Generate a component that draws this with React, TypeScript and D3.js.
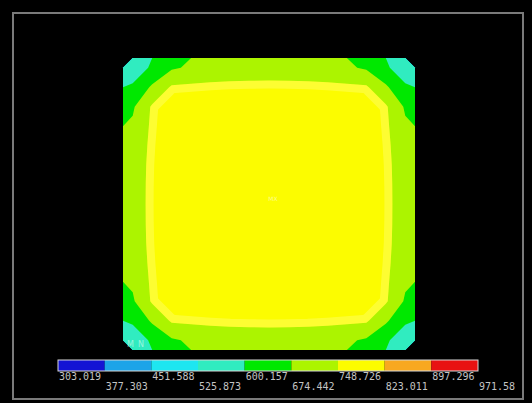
import React from 'react';
import * as d3 from 'd3';

// contour levels
const levels = [303.019, 377.303, 451.588, 525.873, 600.157, 674.442, 748.726, 823.011, 897.296, 971.58];
const levelLabels = ['303.019', '377.303', '451.588', '525.873', '600.157', '674.442', '748.726', '823.011', '897.296', '971.58'];
const bandColors = ['#1414d4', '#1ca4e8', '#1ee6f0', '#30ecc0', '#00e800', '#acf400', '#fcfc00', '#f8a820', '#e81212'];

// nodal values on a 15 x 15 grid (rows top to bottom)
const row0 = [540, 616, 665, 685, 700, 710, 714, 715, 714, 710, 700, 685, 665, 616, 540];
const row1 = [616, 685, 758, 762, 765, 766, 766, 766, 766, 766, 765, 762, 758, 685, 616];
const row2 = [665, 758, 775, 780, 784, 785, 786, 786, 786, 785, 784, 780, 775, 758, 665];
const row3 = [685, 762, 780, 788, 792, 794, 795, 795, 795, 794, 792, 788, 780, 762, 685];
const row4 = [700, 765, 784, 792, 796, 798, 799, 799, 799, 798, 796, 792, 784, 765, 700];
const row5 = [710, 766, 785, 794, 798, 800, 801, 802, 801, 800, 798, 794, 785, 766, 710];
const row6 = [714, 766, 786, 795, 799, 801, 803, 804, 803, 801, 799, 795, 786, 766, 714];
const row7 = [715, 766, 786, 795, 799, 802, 804, 806, 804, 802, 799, 795, 786, 766, 715];
const row8 = [714, 766, 786, 795, 799, 801, 803, 804, 803, 801, 799, 795, 786, 766, 714];
const row9 = [710, 766, 785, 794, 798, 800, 801, 802, 801, 800, 798, 794, 785, 766, 710];
const row10 = [700, 765, 784, 792, 796, 798, 799, 799, 799, 798, 796, 792, 784, 765, 700];
const row11 = [685, 762, 780, 788, 792, 794, 795, 795, 795, 794, 792, 788, 780, 762, 685];
const row12 = [665, 758, 775, 780, 784, 785, 786, 786, 786, 785, 784, 780, 775, 758, 665];
const row13 = [616, 685, 758, 762, 765, 766, 766, 766, 766, 766, 765, 762, 758, 685, 616];
const row14 = [540, 616, 665, 685, 700, 710, 714, 715, 714, 710, 700, 685, 665, 616, 540];
const grid = [row0, row1, row2, row3, row4, row5, row6, row7, row8, row9, row10, row11, row12, row13, row14];

const App = () => {
  const width = 532, height = 403;
  const plot = { x: 123, y: 58, size: 292 };
  const n = grid.length;

  const values = grid.flat();
  const bands = d3.contours().size([n, n]).thresholds(levels.slice(0, 9))(values);
  const path = d3.geoPath(d3.geoIdentity().scale(plot.size / n));
  const yellow = bands[6];

  // legend
  const legend = { x0: 58, x1: 478, y: 360, h: 11 };
  const lx = d3.scaleLinear().domain([levels[0], levels[9]]).range([legend.x0, legend.x1]);
  const labelFont = { fontFamily: '"DejaVu Sans Mono", monospace', fontSize: '10px', fill: '#c4c4c4' };

  return (
    <svg width={width} height={height} style={{ position: 'absolute', left: 0, top: 0, display: 'block' }}>
      <rect width={width} height={height} fill="#000" />
      <rect x={13} y={13} width={510} height={386} fill="none" stroke="#7a7a7a" strokeWidth={2} />

      <defs>
        <clipPath id="yellowClip">
          <path d={path(yellow) || ''} />
        </clipPath>
      </defs>

      <g transform={'translate(' + plot.x + ',' + plot.y + ')'}>
        {bands.map((b, i) => (
          <path key={i} d={path(b) || ''} fill={bandColors[i]} />
        ))}
        {/* pale rim just inside the 748.726 contour */}
        <g clipPath="url(#yellowClip)">
          <path d={path(yellow) || ''} fill="none" stroke="#ffff90" strokeWidth={16} opacity={0.35} />
        </g>
        <text x={150} y={143} textAnchor="middle" style={{ fontFamily: 'DejaVu Sans', fontSize: '6px', fill: '#ffffff', opacity: 0.5 }}>MX</text>
        <text x={4} y={289} style={{ fontFamily: 'DejaVu Sans', fontSize: '8px', fill: '#e8fff8', opacity: 0.55, letterSpacing: '4px' }}>MN</text>
      </g>

      <g>
        {bandColors.map((c, i) => (
          <rect key={i} x={lx(levels[i])} y={legend.y} width={lx(levels[i + 1]) - lx(levels[i])} height={legend.h} fill={c} />
        ))}
        <rect x={legend.x0} y={legend.y} width={legend.x1 - legend.x0} height={legend.h} fill="none" stroke="#d8d8d8" strokeWidth={1} />
        {levelLabels.map((t, i) => (
          <text key={t} x={lx(levels[i]) + 1} y={i % 2 === 0 ? 380 : 390} style={labelFont}>{t}</text>
        ))}
      </g>
    </svg>
  );
};

export default App;
